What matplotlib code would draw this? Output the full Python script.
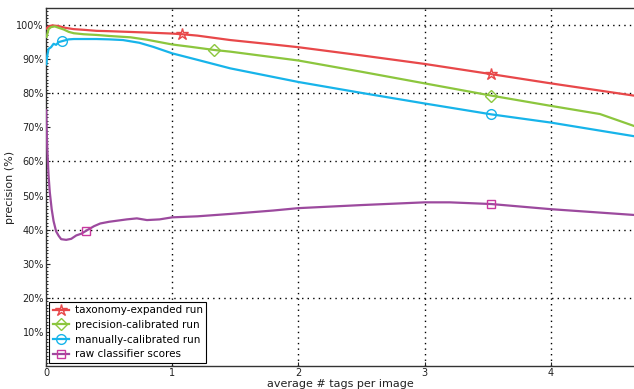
import numpy as np
import matplotlib
matplotlib.use("Agg")
import matplotlib.pyplot as plt
from matplotlib.ticker import MultipleLocator

# taxonomy-expanded run
red_x = [0.005, 0.02, 0.05, 0.1, 0.15, 0.22, 0.3, 0.4, 0.5, 0.65, 0.8, 1.0, 1.08,
         1.2, 1.46, 1.8, 2.0, 2.5, 3.0, 3.53, 4.0, 4.66]
red_y = [99.0, 99.6, 99.9, 99.7, 99.2, 98.8, 98.6, 98.3, 98.2, 98.0, 97.8, 97.5, 97.3,
         96.9, 95.6, 94.3, 93.5, 91.1, 88.6, 85.6, 82.9, 79.3]

# precision-calibrated run
green_x = [0.005, 0.02, 0.04, 0.07, 0.1, 0.14, 0.18, 0.22, 0.3, 0.4, 0.5, 0.67, 0.8,
           1.0, 1.15, 1.33, 1.46, 2.0, 2.5, 3.0, 3.53, 4.0, 4.39, 4.66]
green_y = [96.5, 98.8, 99.4, 99.6, 99.2, 98.7, 98.0, 97.6, 97.3, 97.1, 96.8, 96.4, 95.7,
           94.3, 93.6, 92.7, 92.2, 89.6, 86.3, 82.9, 79.3, 76.3, 73.9, 70.4]

# manually-calibrated run
blue_x = [0.003, 0.01, 0.02, 0.04, 0.06, 0.08, 0.1, 0.13, 0.18, 0.22, 0.3, 0.4, 0.5,
          0.61, 0.74, 0.85, 1.0, 1.2, 1.46, 2.0, 2.5, 3.0, 3.53, 4.0, 4.66]
blue_y = [88.5, 91.0, 93.0, 93.5, 94.5, 94.2, 95.0, 95.3, 95.8, 95.9, 95.9, 95.9, 95.8,
          95.6, 94.8, 93.6, 91.7, 89.8, 87.3, 83.3, 80.1, 77.0, 73.8, 71.4, 67.4]

# raw classifier scores
purple_x = [0.002, 0.005, 0.01, 0.02, 0.03, 0.045, 0.06, 0.08, 0.1, 0.12, 0.16, 0.2,
            0.24, 0.28, 0.32, 0.38, 0.43, 0.5, 0.56, 0.64, 0.72, 0.8, 0.9, 1.0, 1.2,
            1.46, 1.8, 2.0, 2.5, 3.0, 3.2, 3.53, 4.0, 4.66]
purple_y = [75, 70, 64, 56, 51, 46, 42.5, 39.5, 38.2, 37.2, 37.0, 37.3,
            38.3, 38.8, 39.7, 41.0, 41.8, 42.3, 42.6, 43.0, 43.3, 42.8, 43.0, 43.6, 43.9,
            44.6, 45.6, 46.3, 47.2, 48.0, 48.0, 47.5, 46.0, 44.3]

# x positions where markers sit on each curve
red_marks = [1.08, 3.53]
green_marks = [1.33, 3.53]
blue_marks = [0.13, 3.53]
purple_marks = [0.32, 3.53]

labels = ["taxonomy-expanded run", "precision-calibrated run",
          "manually-calibrated run", "raw classifier scores"]

series = [
    (red_x, red_y, red_marks, "#e8484a", "#e8484a", "*", 9),
    (green_x, green_y, green_marks, "#8cc63e", "#8cc63e", "D", 6),
    (blue_x, blue_y, blue_marks, "#17b4ea", "#17b4ea", "o", 7),
    (purple_x, purple_y, purple_marks, "#9c4a9e", "#c8399f", "s", 6),
]

fig = plt.figure(figsize=(6.34, 3.89), dpi=100)
ax = fig.add_axes([46 / 634, 1 - 366 / 389, 1 - 46 / 634, 358 / 389])

for (xs, ys, marks, col, mcol, mk, ms), lab in zip(series, labels):
    idx = [int(np.argmin(np.abs(np.array(xs) - m))) for m in marks]
    ax.plot(xs, ys, color=col, lw=1.6, marker=mk, markevery=idx, ms=ms,
            mfc="none", mec=mcol, mew=1.0, label=lab, zorder=3)

ax.set_xlim(0, 4.66)
ax.set_ylim(0, 105)

for v in range(20, 101, 20):
    ax.axhline(v, color="black", lw=1.0, ls=(0, (1, 3)), zorder=1)
for v in range(1, 5):
    ax.axvline(v, color="black", lw=1.0, ls=(0, (1, 3)), zorder=1)

ax.set_xticks([0, 1, 2, 3, 4])
ax.set_yticks(range(10, 101, 10))
ax.set_yticklabels([f"{v}%" for v in range(10, 101, 10)])
ax.yaxis.set_minor_locator(MultipleLocator(1))
ax.tick_params(axis="both", which="major", direction="in", length=3,
               labelsize=7, pad=1.5, colors="#222222")
ax.tick_params(axis="y", which="minor", direction="in", length=1.2)
ax.tick_params(top=False, right=False)

ax.spines["right"].set_visible(False)
for s in ["left", "bottom", "top"]:
    ax.spines[s].set_linewidth(1.0)
    ax.spines[s].set_color("#333333")

ax.set_xlabel("average # tags per image", fontsize=8, labelpad=0.5, color="#222222")
ax.set_ylabel("precision (%)", fontsize=8, color="#222222")
ax.yaxis.set_label_coords(-31 / 588, 0.5)

leg = ax.legend(loc="lower left", fontsize=7.5, frameon=True, fancybox=False,
                edgecolor="black", framealpha=1, borderpad=0.35, labelspacing=0.45,
                handlelength=1.6, handletextpad=0.5, borderaxespad=0.3)
leg.get_frame().set_linewidth(0.8)

fig.savefig("out.png", dpi=100)
